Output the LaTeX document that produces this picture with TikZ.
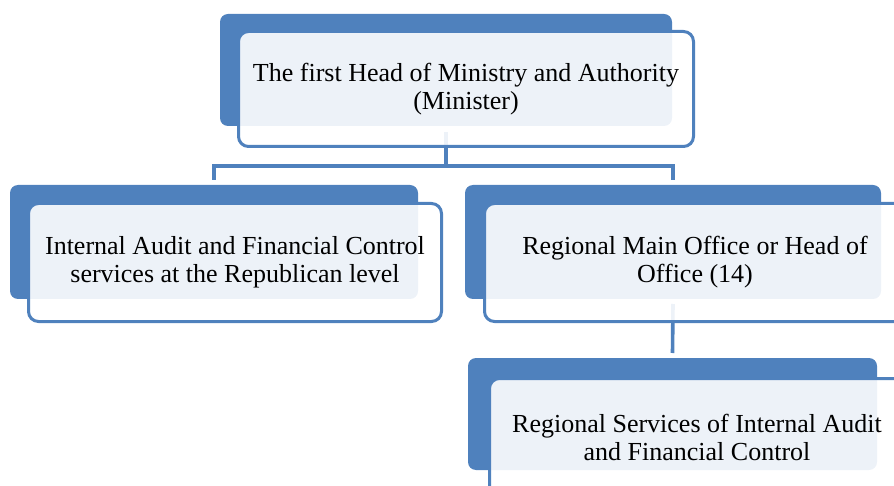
\documentclass[tikz,border=0pt]{standalone}
\usepackage{fontspec}
\setmainfont{Liberation Serif}
\usetikzlibrary{backgrounds}
\definecolor{accent}{RGB}{79,129,189}
\begin{document}
\begin{tikzpicture}[x=1pt,y=-1pt,
  backbox/.style={fill=accent, draw=none, rounded corners=8pt, inner sep=0pt, outer sep=0pt, anchor=north west},
  frontbox/.style={draw=accent, line width=3pt, fill=white, fill opacity=0.9, text opacity=1, rounded corners=10pt, inner sep=0pt, outer sep=0pt, anchor=north west, align=center, text=black, font=\fontsize{26}{28}\selectfont},
  link/.style={draw=accent, line width=3.6pt}]
\clip (0,0) rectangle (894,486);
% top
\node[backbox, minimum width=452pt, minimum height=112pt] (topback) at (220,14) {};
\node[frontbox, minimum width=455pt, minimum height=115pt] (topfront) at (238.5,31.5) {The first Head of Ministry and Authority\\(Minister)};
% left
\node[backbox, minimum width=408pt, minimum height=114pt] (leftback) at (10,185) {};
\node[frontbox, minimum width=413pt, minimum height=118pt] (leftfront) at (28.5,203.5) {Internal Audit and Financial Control\\services at the Republican level};
% right
\node[backbox, minimum width=416pt, minimum height=114pt] (rightback) at (465,185) {};
\node[frontbox, minimum width=421pt, minimum height=118pt] (rightfront) at (484.5,203.5) {Regional Main Office or Head of\\Office (14)};
% bottom
\node[backbox, minimum width=409pt, minimum height=112pt] (bottomback) at (468,358) {};
\node[frontbox, minimum width=415pt, minimum height=118pt] (bottomfront) at (489.5,378.5) {Regional Services of Internal Audit\\and Financial Control};
% connectors
\begin{pgfonlayer}{background}
\coordinate (split) at ([yshift=-40pt]topback.south);
\draw[link] ([yshift=-6pt]topback.south) -- (split);
\draw[link] ([yshift=5pt]leftback.north) |- (split) -| ([yshift=5pt]rightback.north);
\draw[link] ([yshift=-5pt]rightback.south) -- ([yshift=5pt]bottomback.north);
\end{pgfonlayer}
\end{tikzpicture}
\end{document}
